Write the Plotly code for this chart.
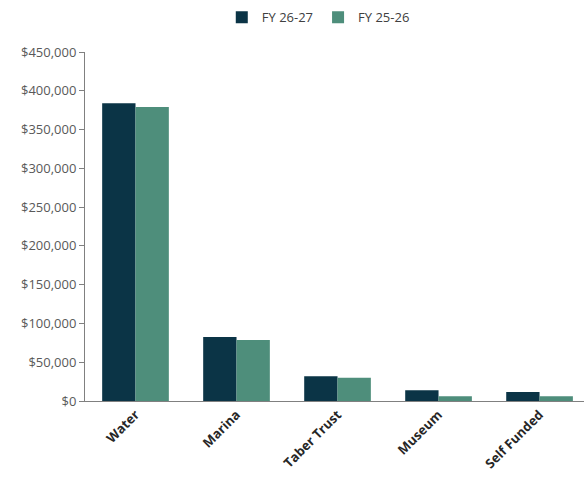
import plotly.graph_objects as go

categories = ["Water", "Marina", "Taber Trust", "Museum", "Self Funded"]
fy_26_27 = [384000, 82500, 32000, 14000, 11500]
fy_25_26 = [379000, 78500, 30000, 6000, 6000]
tick_vals = [0, 50000, 100000, 150000, 200000, 250000, 300000, 350000, 400000, 450000]
tick_text = ["$0", "$50,000", "$100,000", "$150,000", "$200,000", "$250,000",
             "$300,000", "$350,000", "$400,000", "$450,000"]

fig = go.Figure()
fig.add_trace(go.Bar(name="FY 26-27", x=categories, y=fy_26_27, marker_color="#0B3446",
                     marker_line_width=0))
fig.add_trace(go.Bar(name="FY 25-26", x=categories, y=fy_25_26, marker_color="#4E8E7B",
                     marker_line_width=0))

fig.update_layout(
    width=584, height=478,
    margin=dict(l=85, r=0, t=52, b=77),
    paper_bgcolor="white", plot_bgcolor="white",
    barmode="group", bargap=0.34, bargroupgap=0,
    font=dict(family="Open Sans, Liberation Sans, sans-serif", color="#595959", size=12),
    legend=dict(orientation="h", x=0.545, xref="container", xanchor="center",
                y=0.995, yref="container", yanchor="top",
                font=dict(size=13, color="#404040"),
                traceorder="normal", itemwidth=30),
    showlegend=True,
)
fig.update_xaxes(
    range=[-0.5, 4.44], showline=True, linecolor="#808080", linewidth=1,
    tickangle=-45, tickfont=dict(size=13, color="#262626", family="Open Sans, sans-serif", weight="bold"),
    ticks="", showgrid=False,
)
fig.update_yaxes(
    range=[0, 450000], tickvals=tick_vals, ticktext=tick_text,
    showline=True, linecolor="#808080", linewidth=1,
    ticks="outside", ticklen=5, tickcolor="#808080",
    showgrid=False, zeroline=False, tickfont=dict(size=13, color="#595959"),
)

fig.write_html("out.html")
